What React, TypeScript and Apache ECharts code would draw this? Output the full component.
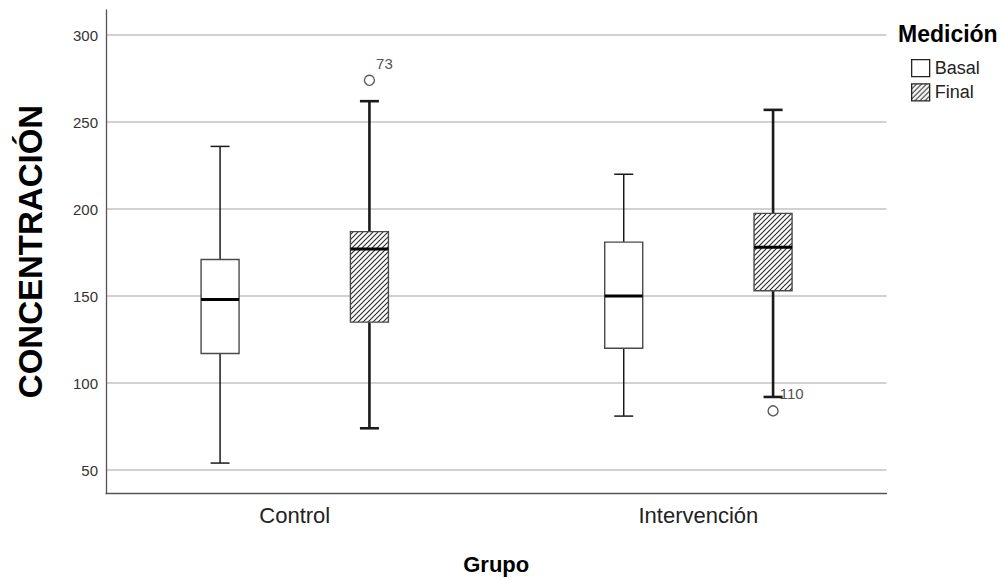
import React, { useEffect, useRef } from "react";
import * as echarts from "echarts";

// ---- data ----
const categories = ["Control", "Intervención"];
const seriesNames = ["Basal", "Final"];
// [low whisker, Q1, median, Q3, high whisker] per group
const basalStats = [
  [54, 117, 148, 171, 236],
  [81, 120, 150, 181, 220],
];
const finalStats = [
  [74, 135, 177, 187, 262],
  [92, 153, 178, 197.5, 257],
];
// outliers of the Final series: group index, value, case id
const finalOutlierGroups = [0, 1];
const finalOutlierValues = [274, 84];
const finalOutlierIds = ["73", "110"];
const yTicks = [50, 100, 150, 200, 250, 300];

// ---- style / layout constants ----
const FONT = "'Liberation Sans', Arial, Helvetica, sans-serif";
const OFFSETS = [-0.185, 0.185];
const BOX_HALF = 19;
const CAP_HALF = 9.5;

const hatchSvg =
  "<svg xmlns='http://www.w3.org/2000/svg' width='5' height='5'>" +
  "<rect width='5' height='5' fill='white'/>" +
  "<path d='M-1,1 L1,-1 M0,5 L5,0 M4,6 L6,4' stroke='#2a2a2a' stroke-width='1.1'/></svg>";
const hatchUrl = "data:image/svg+xml;charset=utf-8," + encodeURIComponent(hatchSvg);
const hatchPattern: any = {
  image: hatchUrl,
  repeat: "repeat",
  imageWidth: 5,
  imageHeight: 5,
};

function makeRenderItem(offset: number, fill: any, whiskerWidth: number) {
  return (params: any, api: any) => {
    const x = api.value(0) + offset;
    const pLow = api.coord([x, api.value(1)]);
    const pQ1 = api.coord([x, api.value(2)]);
    const pMed = api.coord([x, api.value(3)]);
    const pQ3 = api.coord([x, api.value(4)]);
    const pHigh = api.coord([x, api.value(5)]);
    const cx = pLow[0];
    const wStyle = { stroke: "#1a1a1a", lineWidth: whiskerWidth };
    return {
      type: "group",
      children: [
        { type: "line", shape: { x1: cx, y1: pHigh[1], x2: cx, y2: pQ3[1] }, style: wStyle },
        { type: "line", shape: { x1: cx - CAP_HALF, y1: pHigh[1], x2: cx + CAP_HALF, y2: pHigh[1] }, style: wStyle },
        { type: "line", shape: { x1: cx, y1: pQ1[1], x2: cx, y2: pLow[1] }, style: wStyle },
        { type: "line", shape: { x1: cx - CAP_HALF, y1: pLow[1], x2: cx + CAP_HALF, y2: pLow[1] }, style: wStyle },
        {
          type: "rect",
          shape: { x: cx - BOX_HALF, y: pQ3[1], width: BOX_HALF * 2, height: pQ1[1] - pQ3[1] },
          style: { fill, stroke: "#4a4a4a", lineWidth: 1.4 },
        },
        {
          type: "line",
          shape: { x1: cx - BOX_HALF, y1: pMed[1], x2: cx + BOX_HALF, y2: pMed[1] },
          style: { stroke: "#000", lineWidth: 3 },
        },
      ],
    };
  };
}

export default function App() {
  const ref = useRef<HTMLDivElement>(null);
  useEffect(() => {
    if (!ref.current) return;
    const chart = echarts.init(ref.current, null, { renderer: "svg" });
    const basalData = basalStats.map((s, i) => [i, ...s]);
    const finalData = finalStats.map((s, i) => [i, ...s]);
    const outlierData = finalOutlierValues.map((v, i) => [
      finalOutlierGroups[i] + OFFSETS[1],
      v,
      finalOutlierIds[i],
    ]);
    chart.setOption({
      animation: false,
      textStyle: { fontFamily: FONT },
      grid: { left: 106, top: 10, right: 116.5, bottom: 87, containLabel: false },
      xAxis: {
        type: "value",
        min: -0.4676,
        max: 1.466,
        name: "Grupo",
        nameLocation: "middle",
        nameGap: 60,
        nameTextStyle: { fontFamily: FONT, fontWeight: "bold", fontSize: 22, color: "#000" },
        axisLine: { show: true, onZero: false, lineStyle: { color: "#555", width: 1.3 } },
        axisTick: { show: false },
        splitLine: { show: false },
        axisLabel: {
          customValues: [0, 1],
          formatter: (v: number) => categories[Math.round(v)],
          fontFamily: FONT,
          fontSize: 22,
          color: "#222",
          margin: 11,
        },
      },
      yAxis: {
        type: "value",
        min: 36.8,
        max: 314.4,
        name: "CONCENTRACIÓN",
        nameLocation: "middle",
        nameGap: 59,
        nameTextStyle: { fontFamily: FONT, fontWeight: "bold", fontSize: 33, color: "#000" },
        axisLine: { show: true, onZero: false, lineStyle: { color: "#555", width: 1.3 } },
        axisTick: { show: false, customValues: yTicks },
        splitLine: { show: true, lineStyle: { color: "#d2d2d2", width: 2 } },
        axisLabel: {
          customValues: yTicks,
          fontFamily: FONT,
          fontSize: 15,
          color: "#333",
          margin: 8,
          padding: [8, 0, 0, 0],
        },
      },
      legend: {
        orient: "vertical",
        left: 911,
        top: 59,
        padding: 0,
        itemWidth: 18,
        itemHeight: 17,
        itemGap: 6,
        selectedMode: false,
        textStyle: { fontFamily: FONT, fontSize: 18, color: "#222" },
        data: [
          { name: seriesNames[0], icon: "rect", itemStyle: { color: "#fff", borderColor: "#222", borderWidth: 1.3 } },
          { name: seriesNames[1], icon: "rect", itemStyle: { color: hatchPattern, borderColor: "#222", borderWidth: 1.3 } },
        ],
      },
      graphic: [
        {
          type: "text",
          left: 898,
          top: 22,
          style: { text: "Medición", fontFamily: FONT, fontWeight: "bold", fontSize: 23, fill: "#000" },
        },
      ],
      series: [
        {
          name: seriesNames[0],
          type: "custom",
          renderItem: makeRenderItem(OFFSETS[0], "#fff", 1.5),
          itemStyle: { color: "#fff", borderColor: "#222" },
          encode: { x: 0, y: [1, 2, 3, 4, 5] },
          data: basalData,
          silent: true,
        },
        {
          name: seriesNames[1],
          type: "custom",
          renderItem: makeRenderItem(OFFSETS[1], hatchPattern, 2.6),
          itemStyle: { color: hatchPattern, borderColor: "#222" },
          encode: { x: 0, y: [1, 2, 3, 4, 5] },
          data: finalData,
          silent: true,
        },
        {
          name: "Final (atípicos)",
          type: "scatter",
          symbol: "circle",
          symbolSize: 10,
          itemStyle: { color: "#fff", borderColor: "#333", borderWidth: 1.4 },
          label: {
            show: true,
            formatter: (p: any) => p.value[2],
            position: "right",
            distance: 1,
            offset: [0, -17],
            fontFamily: FONT,
            fontSize: 15,
            color: "#222",
          },
          data: outlierData,
          silent: true,
        },
      ],
    });
    return () => chart.dispose();
  }, []);
  return (
    <div
      ref={ref}
      style={{ position: "fixed", left: 0, top: 0, width: 1003, height: 580, background: "#fff" }}
    />
  );
}
